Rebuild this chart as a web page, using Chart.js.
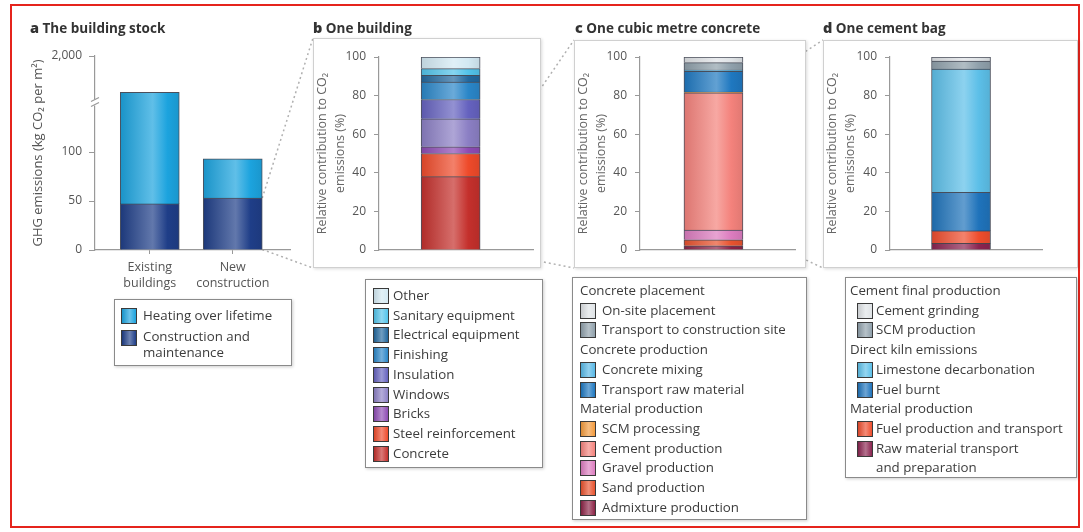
<!DOCTYPE html>
<html>
<head>
<meta charset="utf-8">
<script src="https://cdn.jsdelivr.net/npm/chart.js@4.4.1/dist/chart.umd.min.js"></script>
<style>
body { margin: 0; background: #fff; width: 1083px; height: 532px; position: relative; overflow: hidden;
       font-family: "Open Sans", Lato, sans-serif; color: #3c3c3c; }
.frame { position: absolute; left: 10px; top: 4px; width: 1066px; height: 520px; border: 2px solid #e5241c; }
.ttl { position: absolute; top: 20px; font-size: 13.5px; line-height: 16px; font-weight: bold; color: #333; white-space: nowrap; }
.ttl b { font-size: 14.5px; }
.box { position: absolute; box-sizing: border-box; border: 1px solid #d0d0d0; background: #fff;
       box-shadow: 1px 1px 3px rgba(0,0,0,0.15); }
.leg { position: absolute; box-sizing: border-box; border: 1px solid #8a8a8a; background: #fff;
       box-shadow: 1px 1px 3px rgba(0,0,0,0.2); font-size: 13.3px; }
.row { position: relative; line-height: 19.7px; min-height: 19.7px; white-space: pre-line; }
.sw { position: absolute; top: 2px; width: 14px; height: 14px; border: 1px solid #3a3a3a; }
canvas { position: absolute; }
#links { left: 0; top: 0; pointer-events: none; }
</style>
</head>
<body>
<canvas id="links" width="1083" height="532"></canvas>
<div class="frame"></div>

<div class="ttl" style="left:30px"><b>a</b> The building stock</div>
<div class="ttl" style="left:313px"><b>b</b> One building</div>
<div class="ttl" style="left:575px"><b>c</b> One cubic metre concrete</div>
<div class="ttl" style="left:823px"><b>d</b> One cement bag</div>

<canvas id="chartStock" width="280" height="260" style="left:20px;top:40px"></canvas>

<div class="box" id="boxB" style="left:313px;top:38px;width:228px;height:230px"></div>
<canvas id="chartBuilding" width="228" height="230" style="left:313px;top:38px"></canvas>

<div class="box" id="boxC" style="left:574px;top:40px;width:232px;height:228px"></div>
<canvas id="chartConcrete" width="232" height="228" style="left:574px;top:40px"></canvas>

<div class="box" id="boxD" style="left:823px;top:40px;width:255px;height:228px"></div>
<canvas id="chartCement" width="255" height="228" style="left:823px;top:40px"></canvas>

<div class="leg" id="legA" style="left:114px;top:299px;width:178px;height:67px;padding-top:6px"></div>
<div class="leg" id="legB" style="left:365px;top:279px;width:178px;height:189px;padding-top:6px"></div>
<div class="leg" id="legC" style="left:572px;top:277px;width:235px;height:243px;padding-top:3px"></div>
<div class="leg" id="legD" style="left:845px;top:277px;width:232px;height:201px;padding-top:3px"></div>

<script>
// ---- data ----
// a: building stock, GHG emissions in kg CO2 per m2
const stockTickLabels = [['Existing', 'buildings'], ['New', 'construction']];
const stockSeries = ['Construction and maintenance', 'Heating over lifetime'];
const constructionEmissions = [47, 53];
const heatingEmissions = [1233, 40];
const stockAxisTicks = [0, 50, 100, 2000];
const stockBreakValue = 100;

// b: one building, % share, bottom of the bar first
const buildingParts = ['Concrete', 'Steel reinforcement', 'Bricks', 'Windows', 'Insulation',
    'Finishing', 'Electrical equipment', 'Sanitary equipment', 'Other'];
const buildingShares = [38, 12, 3.5, 14.5, 10, 9, 3.5, 3.5, 6];

// c: one cubic metre concrete, % share, bottom first
const concreteStages = ['Admixture production', 'Sand production', 'Gravel production', 'Cement production',
    'SCM processing', 'Transport raw material', 'Concrete mixing', 'Transport to construction site', 'On-site placement'];
const concreteGroups = ['Material production', 'Material production', 'Material production', 'Material production',
    'Material production', 'Concrete production', 'Concrete production', 'Concrete placement', 'Concrete placement'];
const concreteShares = [2.2, 3.1, 5.0, 71.2, 0.3, 10.8, 0.6, 3.9, 2.9];

// d: one cement bag, % share, bottom first
const cementStages = ['Raw material transport\nand preparation', 'Fuel production and transport', 'Fuel burnt',
    'Limestone decarbonation', 'SCM production', 'Cement grinding'];
const cementGroups = ['Material production', 'Material production', 'Direct kiln emissions', 'Direct kiln emissions',
    'Cement final production', 'Cement final production'];
const cementShares = [3.4, 6.5, 20, 63.8, 4.2, 2.1];

const shareTicks = [0, 20, 40, 60, 80, 100];

// ---- colours ----
const stockColors = ['#1f3e88', '#1ca3de'];
const buildingColors = ['#c4302c', '#ee4a2a', '#8d4bb3', '#8b7fc4', '#6562bf', '#2a86c8', '#23689e', '#52c3ea', '#d3e9f3'];
const concreteColors = ['#8c2346', '#e8522e', '#dc7cbf', '#f4827c', '#f39a3c', '#1f78c0', '#58b8e6', '#8fa0ab', '#dfe3e6'];
const cementColors = ['#8a2450', '#ee4d2d', '#1f73bb', '#5cbfe8', '#8fa0ab', '#dfe3e6'];

Chart.defaults.font.family = '"Open Sans", Lato, sans-serif';
Chart.defaults.color = '#555';

function mix(hex, target, t) {
    const a = parseInt(hex.slice(1), 16), b = parseInt(target.slice(1), 16);
    const ch = s => Math.round(((a >> s) & 255) * (1 - t) + ((b >> s) & 255) * t);
    return 'rgb(' + ch(16) + ',' + ch(8) + ',' + ch(0) + ')';
}

// cylinder-like shading across the bar, bar x value == data index
function shaded(hex) {
    return function (ctx) {
        const chart = ctx.chart, xs = chart.scales.x;
        if (!xs || !chart.chartArea) return hex;
        const cx = xs.getPixelForValue(ctx.dataIndex);
        const w = ctx.dataset.barThickness / 2;
        const g = chart.ctx.createLinearGradient(cx - w, 0, cx + w, 0);
        g.addColorStop(0, mix(hex, '#000000', 0.1));
        g.addColorStop(0.55, mix(hex, '#ffffff', 0.3));
        g.addColorStop(0.8, hex);
        g.addColorStop(1, mix(hex, '#000000', 0.08));
        return g;
    };
}

// y scale with a break: 0..100 linear in the lower half, 100..2000 squeezed above
const BREAK_FRAC = 0.505;
class BrokenScale extends Chart.LinearScale {
    static id = 'broken';
    static defaults = Chart.LinearScale.defaults;
    _dec(v) {
        if (v <= stockBreakValue) return (v - this.min) / (stockBreakValue - this.min) * BREAK_FRAC;
        return BREAK_FRAC + (v - stockBreakValue) / (this.max - stockBreakValue) * (1 - BREAK_FRAC);
    }
    getPixelForValue(v) {
        return v === null ? NaN : this.getPixelForDecimal(this._dec(v));
    }
    getValueForPixel(p) {
        const d = this.getDecimalForPixel(p);
        if (d <= BREAK_FRAC) return this.min + d / BREAK_FRAC * (stockBreakValue - this.min);
        return stockBreakValue + (d - BREAK_FRAC) / (1 - BREAK_FRAC) * (this.max - stockBreakValue);
    }
}
Chart.register(BrokenScale);

const axisBreak = {
    id: 'axisBreak',
    afterDraw(chart) {
        const ys = chart.scales.y, g = chart.ctx;
        const x = chart.chartArea.left, py = ys.getPixelForDecimal(0.76);
        g.save();
        g.fillStyle = '#fff';
        g.fillRect(x - 4, py - 3, 8, 6);
        g.strokeStyle = '#999';
        g.lineWidth = 1.2;
        g.beginPath();
        g.moveTo(x - 4, py - 1); g.lineTo(x + 4, py - 5);
        g.moveTo(x - 4, py + 4); g.lineTo(x + 4, py);
        g.stroke();
        g.restore();
    }
};

const axisGrey = '#999';
const tickFont = { size: 12 };

// ---- a: building stock ----
const chartStock = new Chart(document.getElementById('chartStock'), {
    type: 'bar',
    data: {
        datasets: [constructionEmissions, heatingEmissions].map((vals, k) => ({
            label: stockSeries[k],
            data: vals.map((v, i) => ({ x: i, y: v })),
            backgroundColor: shaded(stockColors[k]),
            borderColor: 'rgba(30,35,50,0.8)',
            borderWidth: 1,
            barThickness: 59
        }))
    },
    options: {
        responsive: false,
        animation: false,
        layout: { padding: { top: 16, right: 10, left: 0, bottom: 0 } },
        plugins: { legend: { display: false }, tooltip: { enabled: false } },
        scales: {
            x: {
                type: 'linear', stacked: true, offset: false, min: -0.66, max: 1.69,
                afterBuildTicks: s => { s.ticks = stockTickLabels.map((_, i) => ({ value: i })); },
                afterFit: s => { s.height = 50; },
                ticks: { callback: v => stockTickLabels[v], color: '#555', font: { size: 12.5, lineHeight: 1.3 }, padding: 5, maxRotation: 0 },
                grid: { drawOnChartArea: false, offset: false, tickLength: 4, color: axisGrey },
                border: { color: axisGrey, width: 1.2 }
            },
            y: {
                type: 'broken', stacked: true, min: 0, max: 2000,
                afterBuildTicks: s => { s.ticks = stockAxisTicks.map(v => ({ value: v })); },
                afterFit: s => { s.width = 75; },
                ticks: { callback: v => v.toLocaleString('en-US'), font: tickFont, padding: 7 },
                grid: { drawOnChartArea: false, tickLength: 6, color: axisGrey },
                border: { color: axisGrey, width: 1.2 },
                title: { display: true, text: 'GHG emissions (kg CO₂ per m²)', color: '#555',
                         font: { size: 13 }, padding: { top: 10, bottom: 0 } }
            }
        }
    },
    plugins: [axisBreak]
});

// ---- b, c, d: single stacked bar of percentage shares ----
function shareChart(id, names, shares, colors, opts) {
    return new Chart(document.getElementById(id), {
        type: 'bar',
        data: {
            datasets: names.map((n, k) => ({
                label: n,
                data: [{ x: 0, y: shares[k] }],
                backgroundColor: shaded(colors[k]),
                borderColor: 'rgba(30,35,50,0.8)',
                borderWidth: 1,
                barThickness: 59
            }))
        },
        options: {
            responsive: false,
            animation: false,
            layout: { padding: { top: opts.top, right: opts.right, left: 0, bottom: 0 } },
            plugins: { legend: { display: false }, tooltip: { enabled: false } },
            scales: {
                x: {
                    type: 'linear', stacked: true, offset: false, min: -1, max: opts.xMax,
                    afterFit: s => { s.height = 18; },
                    ticks: { display: false },
                    grid: { drawOnChartArea: false, offset: false, drawTicks: false, color: axisGrey },
                    border: { color: axisGrey, width: 1.2 }
                },
                y: {
                    stacked: true, min: 0, max: 100,
                    afterBuildTicks: s => { s.ticks = shareTicks.map(v => ({ value: v })); },
                    afterFit: s => { s.width = opts.yWidth; },
                    ticks: { font: tickFont, padding: 8 },
                    grid: { drawOnChartArea: false, tickLength: 5, color: axisGrey },
                    border: { color: axisGrey, width: 1.2 },
                    title: { display: true, text: ['Relative contribution to CO₂', 'emissions (%)'], color: '#666',
                             font: { size: 12.5, lineHeight: 1.45 }, padding: { top: 0, bottom: 0 } }
                }
            }
        }
    });
}

const chartBuilding = shareChart('chartBuilding', buildingParts, buildingShares, buildingColors,
    { top: 19, right: 8, yWidth: 66, xMax: 1.15 });
const chartConcrete = shareChart('chartConcrete', concreteStages, concreteShares, concreteColors,
    { top: 17, right: 11, yWidth: 66, xMax: 1.11 });
const chartCement = shareChart('chartCement', cementStages, cementShares, cementColors,
    { top: 17, right: 36, yWidth: 67, xMax: 1.14 });

// ---- legends (top of the stack listed first) ----
function swatch(c) {
    return 'linear-gradient(90deg,' + mix(c, '#000000', 0.1) + ',' + mix(c, '#ffffff', 0.35) + ' 55%,' + c + ')';
}
function buildLegend(id, names, colors, groups, swLeft, txtLeft, hdrLeft) {
    let html = '', last = null;
    for (let i = names.length - 1; i >= 0; i--) {
        if (groups && groups[i] !== last) {
            html += '<div class="row" style="padding-left:' + hdrLeft + 'px">' + groups[i] + '</div>';
            last = groups[i];
        }
        html += '<div class="row" style="padding-left:' + txtLeft + 'px"><span class="sw" style="left:' + swLeft +
            'px;background:' + swatch(colors[i]) + '"></span>' + names[i] + '</div>';
    }
    document.getElementById(id).innerHTML = html;
}
buildLegend('legA', stockSeries, stockColors, null, 6, 28);
document.querySelector('#legA').lastElementChild.style.cssText += ';white-space:normal;line-height:16px;margin-top:2px';
buildLegend('legB', buildingParts, buildingColors, null, 7, 27);
buildLegend('legC', concreteStages, concreteColors, concreteGroups, 7, 29, 7);
buildLegend('legD', cementStages, cementColors, cementGroups, 11, 30, 4);

// ---- dotted zoom lines between panels ----
function barCorner(chart, ds, idx, top) {
    const el = chart.getDatasetMeta(ds).data[idx];
    return [chart.canvas.offsetLeft + el.x + el.width / 2, chart.canvas.offsetTop + (top ? el.y : el.base)];
}
function boxCorner(id, top) {
    const b = document.getElementById(id);
    return [b.offsetLeft, b.offsetTop + (top ? 0 : b.offsetHeight)];
}
(function drawLinks() {
    const g = document.getElementById('links').getContext('2d');
    g.strokeStyle = '#b0b0b0';
    g.lineWidth = 1.5;
    g.setLineDash([2, 3]);
    const pairs = [
        [barCorner(chartStock, 0, 1, true), boxCorner('boxB', true)],
        [barCorner(chartStock, 0, 1, false), boxCorner('boxB', false)],
        [barCorner(chartBuilding, 0, 0, true), boxCorner('boxC', true)],
        [barCorner(chartBuilding, 0, 0, false), boxCorner('boxC', false)],
        [barCorner(chartConcrete, 3, 0, true), boxCorner('boxD', true)],
        [barCorner(chartConcrete, 3, 0, false), boxCorner('boxD', false)]
    ];
    pairs.forEach(([a, b]) => {
        g.beginPath();
        g.moveTo(a[0], a[1]);
        g.lineTo(b[0], b[1]);
        g.stroke();
    });
})();
</script>
</body>
</html>
